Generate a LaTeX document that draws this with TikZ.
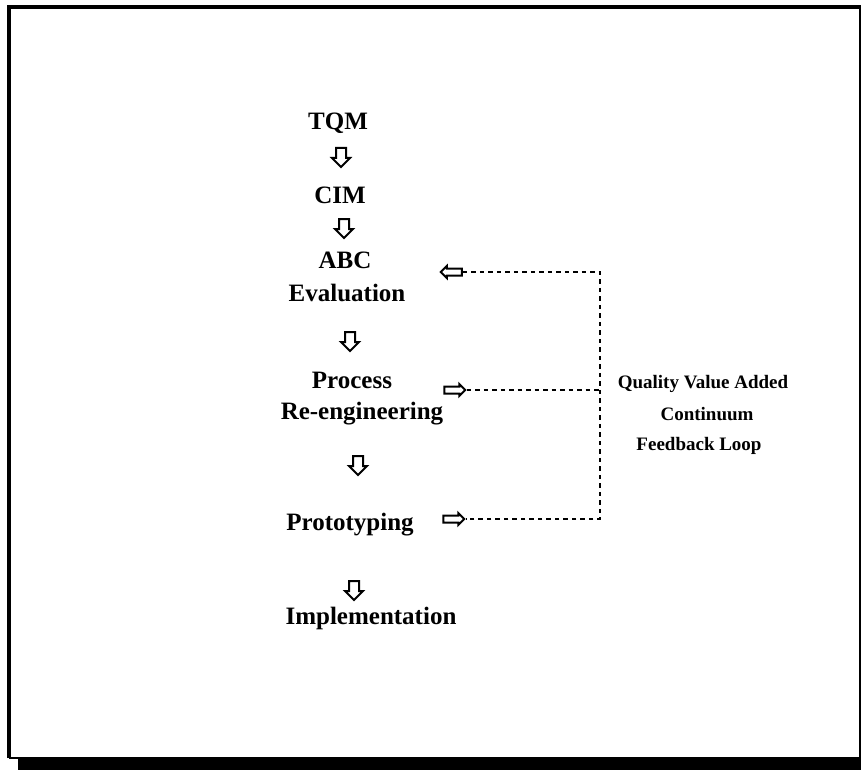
\documentclass[tikz,border=0pt]{standalone}
\usepackage{fontspec}
\setmainfont{Liberation Serif}
\usetikzlibrary{shapes.arrows}

\begin{document}
\begin{tikzpicture}[
    x=1pt, y=-1pt,
    every node/.style={font=\bfseries\fontsize{25}{30}\selectfont, inner sep=0pt},
    stage/.style={anchor=base},
    dnarrow/.style={draw, single arrow, line width=2pt, shape border rotate=270,
      minimum height=19pt, minimum width=18pt, inner sep=4pt,
      single arrow head extend=4pt},
    fbarrow/.style={draw, single arrow, line width=2pt,
      minimum height=21pt, minimum width=11pt, inner sep=2.5pt,
      single arrow head extend=2.5pt},
    loopline/.style={line width=2pt, dash pattern=on 4.5pt off 4pt}
  ]
  \useasboundingbox (0,0) rectangle (861,770);

  % Frame with shadow
  \fill (18,759) rectangle (861,770);
  \draw[line width=1.5pt] (860,8) -- (860,758) -- (9,758);
  \draw[line width=4pt] (9,758) -- (9,7) -- (861,7);

  % Stages
  \node[stage] (tqm)  at (338,130) {TQM};
  \node[dnarrow] (a1) at (341,155) {};
  \node[stage] (cim)  at (340,203) {CIM};
  \node[dnarrow] (a2) at (344,226) {};
  \node[stage] (abc)  at (345,268) {ABC};
  \node[stage] (eval) at (347,301) {Evaluation};
  \node[dnarrow] (a3) at (350,339) {};
  \node[stage] (proc) at (352,388) {Process};
  \node[stage] (reng) at (362,419) {Re-engineering};
  \node[dnarrow] (a4) at (358,463) {};
  \node[stage] (prot) at (350,530) {Prototyping};
  \node[dnarrow] (a5) at (354,588) {};
  \node[stage] (impl) at (371,624) {Implementation};

  % Feedback arrows
  \node[fbarrow, shape border rotate=180] (fbtop) at (453,272) {};
  \node[fbarrow] (fbmid) at (453,390) {};
  \node[fbarrow] (fbbot) at (452,519) {};

  % Feedback loop
  \coordinate (ctop) at (600,272);
  \coordinate (cmid) at (600,390);
  \coordinate (cbot) at (600,519);
  \draw[loopline] (fbtop.east) -- (ctop) -- (cbot) -- (fbbot.east);
  \draw[loopline] (fbmid.east) -- (cmid);

  % Label
  \begin{scope}[every node/.style={font=\bfseries\fontsize{19}{30}\selectfont, inner sep=0pt, anchor=base}]
    \node (q1) at (703,388) {Quality Value Added};
    \node (q2) at (707,420) {Continuum};
    \node (q3) at (699,450) {Feedback Loop};
  \end{scope}

\end{tikzpicture}
\end{document}
